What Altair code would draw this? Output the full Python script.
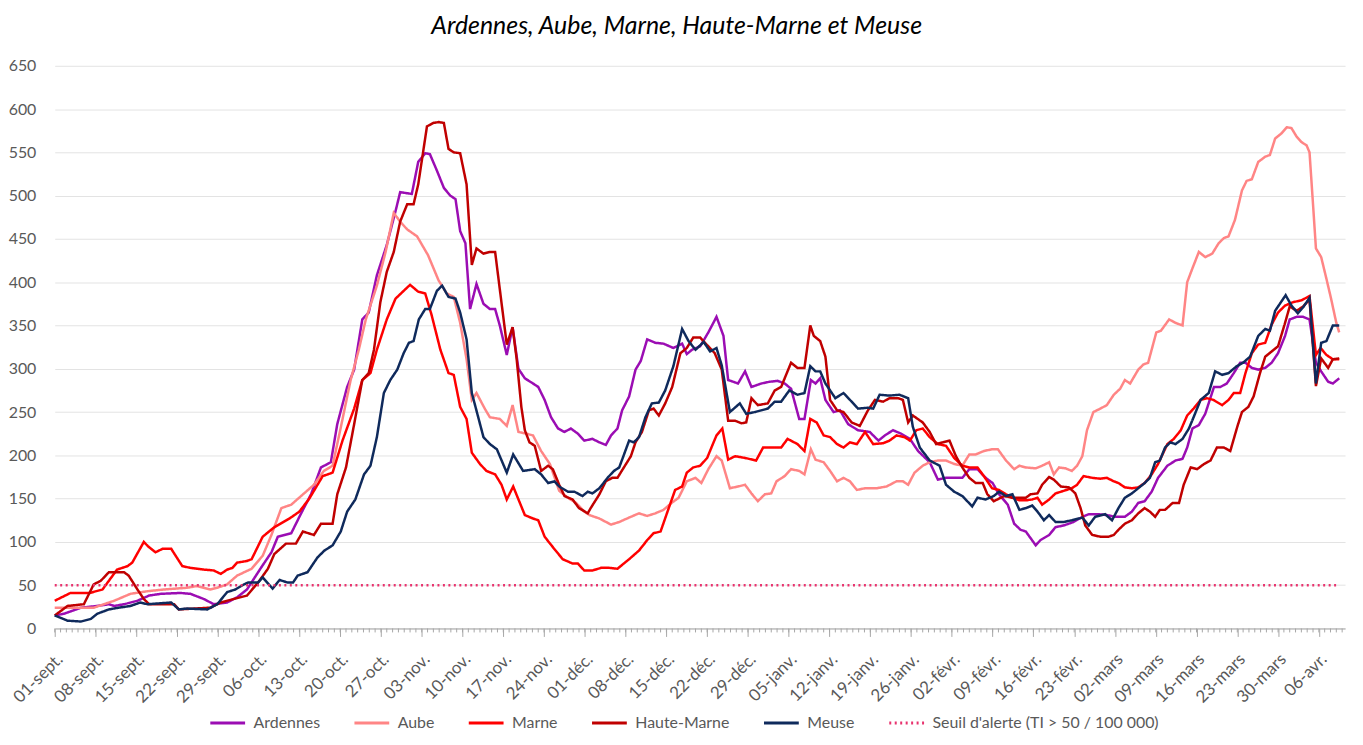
import json
import altair as alt
import pandas as pd

TITLE = "Ardennes, Aube, Marne, Haute-Marne et Meuse"

TICK_LABELS = ["01-sept.", "08-sept.", "15-sept.", "22-sept.", "29-sept.", "06-oct.", "13-oct.",
               "20-oct.", "27-oct.", "03-nov.", "10-nov.", "17-nov.", "24-nov.", "01-déc.",
               "08-déc.", "15-déc.", "22-déc.", "29-déc.", "05-janv.", "12-janv.", "19-janv.",
               "26-janv.", "02-févr.", "09-févr.", "16-févr.", "23-févr.", "02-mars", "09-mars",
               "16-mars", "23-mars", "30-mars", "06-avr."]

# days counted from 01-sept.
ARD_DAY = [0, 1.6, 4.5, 7.3, 9.3, 10.2, 11.9, 14.2, 16.2, 18.2, 21.6, 23.3, 25.6, 27.3, 29.6, 31.3, 33,
           35.5, 37.2, 38.3, 40.6, 42.3, 44, 45.7, 47.4, 48.5, 50.2, 51.4, 52.8, 53.9, 55.3, 57, 58.5, 59.3,
           61.3, 62.4, 63.6, 64.4, 65.6, 66.8, 67.9, 68.8, 69.6, 70.5, 71.3, 72.4, 73.6, 74.7, 75.6, 76.4,
           77.6, 78.6, 79.6, 80.7, 82.1, 83, 84.1, 85.2, 86.4, 87.5, 88.6, 89.8, 90.9, 92.3, 93.5, 94.6,
           95.5, 96.6, 97.4, 98.6, 99.7, 100.6, 101.7, 103.1, 104.5, 106.2, 107.7, 108.5, 109.4, 110.8,
           112.2, 113.6, 114.8, 115.6, 117.3, 118.5, 119.6, 121.3, 122.7, 124.1, 125.3, 126.4, 127.8,
           128.7, 129.8, 130.6, 131.4, 132.3, 133.7, 134.8, 136.2, 137.9, 139.9, 141.4, 142.5, 143.9,
           145.3, 146.8, 148.2, 150.2, 151.6, 153, 155.8, 157, 158.4, 159.8, 161, 162.1, 163.6, 164.7,
           165.8, 166.7, 168.4, 169.2, 170.7, 171.8, 173.2, 174.9, 176.4, 177.5, 179.2, 180.6, 182, 183.7,
           184.9, 186, 187.1, 188.3, 189.4, 191, 192.4, 193.6, 194.4, 195.3, 196.4, 197.5, 199, 200.1,
           201.2, 202.4, 203.5, 204.4, 205.5, 206.6, 207.8, 208.9, 210, 211.2, 212, 213.2, 214.3, 215.4,
           216.5, 217.4, 218.6, 219.4, 220.5]
ARD_VAL = [15, 17, 24, 26, 28, 26, 28, 32, 38, 40, 41, 40, 34, 28, 30, 36, 45,
           71, 88, 106, 110, 133, 155, 186, 192, 236, 279, 299, 357, 365, 408, 443, 482, 504,
           502, 539, 549, 548, 529, 509, 500, 496, 459, 445, 369, 398, 375, 369, 369, 350,
           316, 348, 300, 289, 283, 279, 264, 244, 231, 227, 231, 225, 217, 219, 215, 212,
           223, 231, 252, 268, 299, 309, 334, 330, 329, 324, 329, 317, 322, 326,
           342, 360, 338, 287, 283, 297, 279, 283, 285, 286, 283, 277, 242,
           242, 287, 283, 289, 264, 250, 252, 236, 229, 227, 217, 223, 229,
           225, 219, 205, 192, 172, 174, 174, 184, 184, 174, 168, 155, 143, 121,
           114, 112, 96, 102, 108, 117, 119, 123, 129, 132, 132, 131, 129, 129,
           135, 145, 147, 158, 174, 188, 194, 196, 209, 231, 235, 248, 279, 279,
           283, 295, 307, 307, 301, 299, 301, 307, 318, 338, 357, 360, 360, 357,
           307, 297, 285, 283, 289]

AUB_DAY = [0, 6.7, 10.2, 13, 15.9, 18.7, 22.7, 24.4, 26.7, 27.9, 29.6, 31.3, 33.8, 35.7, 37.2, 38.9,
           40.6, 42.8, 44.5, 46.2, 47.7, 49.1, 50.8, 52.2, 53.4, 55.3, 56.8, 58.2, 59.3, 60.5, 62.2, 64.1,
           65.9, 67.3, 68.5, 69.6, 70.7, 71.6, 72.4, 73.9, 74.7, 76.4, 77.6, 78.6, 79.6, 81, 82.1, 83.5,
           85, 86.6, 88.1, 89.5, 90.9, 91.8, 93.5, 95.5, 96.9, 98.9, 100.3, 101.7, 103.1, 104.5, 105.9,
           107.1, 108.5, 110, 111, 112.2, 113.6, 114.5, 115.9, 117.3, 118.5, 119.6, 120.7, 121.9, 123,
           123.9, 125.3, 126.4, 127.8, 128.7, 129.8, 130.6, 132, 133.1, 134.3, 135.4, 136.5, 137.7,
           139.1, 141.1, 142.8, 144.5, 145.6, 146.5, 147.6, 149, 150.2, 151.6, 153, 154.4, 155.8, 157,
           158.1, 159.5, 160.9, 161.9, 163.3, 164.7, 165.6, 166.7, 168.4, 169.5, 170.7, 171.5, 172.4,
           173.5, 174.6, 175.5, 176.4, 177.2, 178.3, 179.5, 180.6, 181.8, 182.9, 183.7, 184.6, 186,
           186.9, 187.7, 189.1, 189.9, 191.3, 192.4, 193.6, 194.4, 195.3, 196.4, 197.5, 198.7, 199.8,
           200.7, 201.5, 202.6, 203.8, 204.6, 205.5, 206.6, 207.8, 208.6, 209.5, 210.6, 211.5, 212.3,
           213.2, 214, 214.9, 215.4, 216, 216.5, 217.4, 218.3, 219.1, 220, 220.5]
AUB_VAL = [24, 24, 32, 40, 43, 45, 47, 49, 45, 47, 51, 61, 69, 84, 108, 139,
           143, 156, 166, 182, 188, 232, 287, 322, 357, 396, 435, 480, 470, 461, 453, 431,
           402, 387, 383, 353, 311, 264, 272, 253, 244, 242, 234, 258, 227, 225, 223, 205,
           190, 159, 151, 145, 135, 131, 127, 120, 123, 129, 133, 130, 133, 137, 145,
           151, 170, 174, 168, 184, 199, 194, 162, 164, 166, 156, 147, 155, 156,
           170, 176, 184, 182, 178, 207, 195, 192, 182, 170, 174, 170, 160,
           162, 162, 164, 170, 170, 166, 180, 188, 192, 194, 194, 190, 188, 201,
           201, 205, 207, 207, 194, 184, 188, 186, 185, 188, 192, 178, 186,
           185, 182, 188, 199, 229, 250, 254, 258, 270, 277, 287, 283, 299,
           305, 307, 342, 344, 357, 353, 350, 400, 416, 435, 429, 433, 445,
           451, 453, 472, 506, 517, 519, 539, 545, 547, 566, 572, 579, 578,
           568, 562, 558, 550, 490, 439, 429, 404, 381, 353, 342]

MAR_DAY = [0, 2.7, 6, 8.2, 10.7, 12.5, 13.3, 15.3, 16, 17.3, 18.5, 20, 21.9, 23.3, 25.6, 27.3, 28.5,
           29.6, 30.5, 31.3, 33, 33.8, 35.7, 37.7, 40.3, 42, 43.7, 46, 47.7, 49.4, 51.4, 52.8, 54.2, 55.3,
           57, 58.5, 59.9, 61, 62.4, 63.6, 64.7, 66.2, 67.6, 68.5, 69.6, 70.7, 71.6, 73, 74.1, 75.6, 76.7,
           77.6, 78.7, 80.7, 82.1, 83, 84.1, 85.5, 87.2, 88.9, 89.8, 90.9, 92.3, 93.8, 95.2, 96.6, 98.6,
           100.3, 101.7, 102.8, 104, 105.4, 106.5, 107.7, 108.5, 109.6, 110.8, 112, 113.1, 113.6, 114.6,
           115.6, 116.8, 118.5, 120.4, 121.6, 123.3, 124.7, 125.8, 127.5, 128.7, 129.7, 130.8, 132,
           133.1, 134.3, 135.4, 136.5, 137.7, 139.1, 140.5, 142.2, 143.3, 144.5, 145.9, 146.8, 147.9,
           149, 150.2, 151.6, 153, 154.4, 155.8, 157, 158.4, 159.5, 160.9, 162.1, 163.3, 164.4, 165.6,
           166.7, 167.8, 168.7, 169.5, 170.7, 171.8, 173.2, 174.6, 175.5, 176.6, 178.1, 179.5, 180.6,
           181.8, 182.6, 183.7, 184.9, 186, 187.1, 188.3, 189.4, 191, 192.1, 193.3, 194.4, 195.5, 196.7,
           197.8, 198.9, 200.4, 201.5, 202.4, 203.5, 204.4, 205.5, 206.6, 207.8, 208.9, 210, 211.2,
           212.6, 214, 215.4, 216.5, 217.3, 218.3, 219.4, 220.5]
MAR_VAL = [32, 41, 41, 45, 68, 72, 76, 100, 95, 88, 92, 92, 72, 70, 68, 67, 63,
           68, 70, 76, 78, 80, 106, 117, 127, 135, 150, 176, 180, 217, 254, 287, 295, 322,
           357, 381, 390, 397, 389, 387, 362, 322, 295, 293, 256, 242, 203, 190, 182, 178, 166,
           149, 164, 131, 127, 125, 106, 94, 80, 75, 75, 67, 67, 70, 70, 69, 80,
           90, 102, 110, 112, 139, 160, 164, 180, 186, 188, 197, 215, 223, 231,
           195, 199, 197, 194, 209, 209, 209, 219, 213, 205, 242, 238, 223,
           221, 213, 209, 215, 213, 227, 213, 214, 217, 223, 221, 217, 229,
           231, 221, 213, 211, 197, 188, 186, 186, 176, 162, 160, 155, 151, 148,
           148, 149, 151, 143, 149, 156, 159, 162, 166, 176, 174, 173, 174,
           170, 168, 163, 162, 163, 168, 178, 190, 213, 219, 229, 246, 254, 264,
           266, 264, 258, 264, 272, 272, 295, 318, 328, 330, 351, 365, 373,
           377, 379, 384, 316, 324, 316, 311, 311]

HMA_DAY = [0, 2.2, 5, 6.7, 7.9, 9.3, 11.9, 12.7, 14.2, 15.3, 16.2, 20.5, 21.3, 26.7, 28.5, 30.7, 33,
           34.9, 36.6, 37.7, 39.7, 41.4, 42.6, 44.5, 45.7, 47.7, 48.5, 50, 51.4, 52.8, 53.9, 54.8, 55.9,
           57, 58.2, 59.3, 60.5, 61.6, 62.4, 63.9, 65, 65.9, 66.8, 67.6, 68.5, 69.6, 70.7, 71.6, 72.4,
           73.6, 74.7, 75.6, 76.4, 77.6, 78.6, 79.3, 80.1, 80.7, 81.5, 82.4, 83.5, 84.7, 85.5, 86.6, 87.5,
           88.9, 90, 91.5, 92, 93.5, 94.6, 95.7, 96.6, 97.7, 98.9, 99.7, 100.8, 102, 102.8, 103.7, 104.8,
           106, 107.4, 108.5, 109.6, 110.8, 111.9, 113.3, 114.5, 115.6, 116.8, 117.9, 118.7, 119.6, 120.7,
           122.4, 123.6, 124.7, 126.4, 127.5, 128.7, 129.7, 130.3, 131.4, 132.3, 133.1, 134.3, 135.4,
           136.8, 138.2, 139.6, 140.8, 142.2, 143.3, 144.8, 145.6, 146.5, 147.3, 149, 150.2, 151.3, 152.4,
           153.6, 154.7, 155.8, 157, 158.1, 159.3, 160.1, 161.2, 162.1, 163, 164.4, 166.7, 167.5, 168.7,
           169.5, 170.7, 171.5, 172.7, 174.1, 175.2, 176.1, 176.9, 178.1, 179.5, 180.9, 181.8, 182.6,
           183.7, 184.9, 186, 187.1, 188, 188.9, 189.7, 190.6, 191.9, 193, 193.8, 195, 196.1, 197.3,
           198.4, 199.5, 200.7, 201.8, 203, 203.8, 204.9, 205.8, 206.9, 207.8, 208.9, 210, 211.2, 212,
           213.2, 214.3, 215.4, 216.5, 217.4, 218.6, 219.4, 220.5]
HMA_VAL = [15, 26, 28, 51, 55, 65, 65, 61, 45, 34, 28, 28, 22, 24, 30, 34, 38,
           53, 69, 86, 98, 98, 112, 108, 121, 121, 155, 186, 236, 287, 295, 322, 377,
           412, 435, 470, 490, 490, 513, 580, 584, 585, 584, 554, 550, 549, 513, 420, 439,
           433, 435, 435, 392, 328, 348, 311, 256, 229, 215, 211, 182, 188, 184, 166, 153,
           149, 139, 133, 139, 155, 170, 174, 174, 186, 199, 215, 227, 252, 254, 246, 260,
           279, 318, 324, 336, 336, 328, 318, 299, 240, 240, 237, 238, 266, 258,
           260, 275, 279, 307, 301, 301, 350, 338, 332, 314, 264, 252, 250,
           238, 234, 252, 264, 262, 266, 266, 264, 238, 246, 238, 227, 213, 215,
           217, 199, 186, 174, 168, 168, 155, 147, 150, 153, 151, 151, 155, 156,
           166, 175, 172, 164, 163, 156, 139, 119, 108, 106, 106, 108, 114,
           121, 125, 133, 139, 135, 129, 137, 137, 145, 145, 166, 186, 184, 190,
           194, 209, 209, 205, 233, 250, 256, 268, 295, 314, 320, 326, 353, 372,
           367, 372, 380, 280, 312, 301, 311, 312]

MEU_DAY = [0, 2.2, 4.5, 6.2, 7.3, 9.3, 11, 13, 14.7, 15.9, 20, 21.3, 22.7, 26.2, 27.9, 29.6, 31, 32.5,
           33.2, 34.9, 35.7, 37.4, 38.6, 40, 40.9, 41.7, 43.4, 45.1, 46.3, 47.7, 49.1, 50.2, 51.6, 53.1,
           54.2, 55.3, 56.5, 57.6, 58.8, 59.9, 60.8, 61.6, 62.5, 63.6, 64.4, 65.6, 66.5, 67.6, 68.8, 69.6,
           70.7, 71.6, 72.7, 73.6, 74.7, 75.9, 77.6, 78.7, 80.4, 82.4, 83.5, 84.7, 85.8, 86.6, 88.1, 89.2,
           90.6, 91.5, 92.3, 93.5, 94.9, 96, 96.9, 97.4, 98.6, 99.4, 100.3, 101.4, 102.5, 103.7, 104.8,
           106.2, 107.7, 108.8, 110, 111.4, 112.5, 113.6, 114.5, 115.9, 117.6, 118.7, 120.2, 122.4, 123.6,
           124.7, 126.1, 127.5, 128.7, 129.7, 130.6, 131.4, 132.3, 134, 135.4, 136.8, 137.9, 139.6,
           140.5, 141.6, 143.3, 145, 146.5, 147.3, 148.5, 150.2, 151.9, 153, 154.4, 155.8, 157.5, 158.4,
           159.8, 161.2, 162.1, 163.3, 164.4, 165.6, 166.7, 167.8, 168.7, 169.8, 170.7, 171.8, 173.2,
           174.6, 176.4, 177.5, 178.6, 180.3, 181.5, 182.6, 183.7, 184.9, 186, 187.1, 188, 188.9, 189.7,
           190.6, 191.5, 192.4, 193.6, 194.7, 195.5, 196.7, 198.1, 199.2, 200.4, 201.5, 202.9, 204,
           205.2, 206.6, 207.8, 208.6, 209.5, 210.3, 211.3, 212.3, 213.4, 214.3, 215.4, 216.5, 217.4,
           218.3, 219.4, 220.5]
MEU_VAL = [15, 9, 8, 11, 17, 22, 24, 26, 30, 28, 30, 22, 23, 22, 28, 42, 45, 51,
           53, 53, 59, 46, 56, 53, 53, 61, 65, 82, 90, 96, 112, 135, 149, 178,
           188, 221, 272, 287, 299, 318, 330, 332, 357, 369, 369, 390, 396, 383, 381, 365,
           334, 272, 244, 221, 213, 207, 180, 201, 182, 184, 178, 168, 170, 164, 158, 158,
           153, 158, 156, 162, 174, 182, 186, 195, 217, 215, 221, 244, 260, 261, 275,
           303, 346, 332, 322, 331, 320, 324, 304, 250, 260, 248, 250, 254, 262,
           262, 275, 270, 272, 303, 297, 297, 283, 266, 272, 262, 254, 255,
           254, 270, 269, 270, 266, 233, 209, 194, 188, 166, 158, 153, 141, 151,
           149, 153, 158, 153, 155, 137, 139, 142, 135, 125, 131, 123, 123,
           125, 128, 119, 129, 132, 125, 139, 151, 156, 162, 168, 174, 192, 194,
           209, 215, 213, 219, 231, 244, 264, 272, 297, 293, 295, 303, 307,
           314, 338, 346, 344, 367, 375, 385, 373, 364, 371, 382, 283, 330,
           332, 350, 350]

THRESHOLD_NAME = "Seuil d'alerte (TI > 50 / 100 000)"
THRESHOLD_VALUE = 50
THRESHOLD_DAYS = [0, 220.5]

SERIES_NAMES = ["Ardennes", "Aube", "Marne", "Haute-Marne", "Meuse", THRESHOLD_NAME]
SERIES_COLORS = ["#9B0DB3", "#FF8585", "#FF0000", "#C00000", "#0F2A5C", "#E8336E"]
SERIES_DASH = [[1, 0], [1, 0], [1, 0], [1, 0], [1, 0], [2, 3.5]]

series_data = [
    ("Ardennes", ARD_DAY, ARD_VAL),
    ("Aube", AUB_DAY, AUB_VAL),
    ("Marne", MAR_DAY, MAR_VAL),
    ("Haute-Marne", HMA_DAY, HMA_VAL),
    ("Meuse", MEU_DAY, MEU_VAL),
    (THRESHOLD_NAME, THRESHOLD_DAYS, [THRESHOLD_VALUE] * len(THRESHOLD_DAYS)),
]
rows = []
for name, days, vals in series_data:
    for d, v in zip(days, vals):
        rows.append({"serie": name, "jour": d, "valeur": v})
df = pd.DataFrame(rows)

N_DAYS = 222
week_days = [7 * i for i in range(len(TICK_LABELS))]
minor = pd.DataFrame({"jour": list(range(N_DAYS))})

W, H = 1298, 566
FONT = "Lato"
GREY = "#595959"
AXIS_GREY = "#A6A6A6"

x_scale = alt.Scale(domain=[0, 221.5], nice=False, zero=False)
y_scale = alt.Scale(domain=[0, 650], nice=False)

label_expr = (json.dumps(TICK_LABELS, ensure_ascii=False) + "[round(datum.value / 7)]")

lines = alt.Chart(df).mark_line(strokeWidth=2.5).encode(
    x=alt.X("jour:Q", scale=x_scale, title=None,
            axis=alt.Axis(values=week_days, labelExpr=label_expr, labelAngle=-45,
                          labelAlign="right", labelBaseline="middle", labelPadding=20,
                          labelOffset=5, labelFont=FONT, labelFontSize=17, labelColor=GREY,
                          tickSize=8, tickColor=AXIS_GREY, domainColor=AXIS_GREY,
                          labelOverlap=False, grid=False, labelFlush=False, labelBound=False)),
    y=alt.Y("valeur:Q", scale=y_scale, title=None,
            axis=alt.Axis(values=list(range(0, 651, 50)), labelFont=FONT, labelFontSize=16,
                          labelColor=GREY, labelPadding=19, ticks=False, domain=False,
                          grid=True, gridColor="#E3E3E3", gridWidth=1)),
    color=alt.Color("serie:N", scale=alt.Scale(domain=SERIES_NAMES, range=SERIES_COLORS),
                    title=None),
    strokeDash=alt.StrokeDash("serie:N", scale=alt.Scale(domain=SERIES_NAMES, range=SERIES_DASH),
                              title=None),
)

minor_ticks = alt.Chart(minor).mark_rule(color=AXIS_GREY, strokeWidth=1).encode(
    x=alt.X("jour:Q", scale=x_scale),
    y=alt.value(H),
    y2=alt.value(H + 4),
)

chart = alt.layer(lines, minor_ticks).properties(
    width=W, height=H,
    title=alt.TitleParams(TITLE, font=FONT, fontSize=25, fontStyle="italic", fontWeight="normal",
                          color="#000000", anchor="middle", frame="bounds", offset=19),
    autosize=alt.AutoSizeParams(type="none"),
    padding={"left": 47, "top": 56, "right": 10, "bottom": 100},
).configure_view(stroke=None).configure_legend(
    orient="none", legendX=155, legendY=642, direction="horizontal",
    symbolType="stroke", symbolSize=1225, symbolStrokeWidth=3,
    labelFont=FONT, labelFontSize=16, labelColor=GREY, labelOffset=7, labelLimit=500,
    columnPadding=28, title=None,
)

chart.save("out.html", embed_options={"renderer": "svg", "actions": False})
